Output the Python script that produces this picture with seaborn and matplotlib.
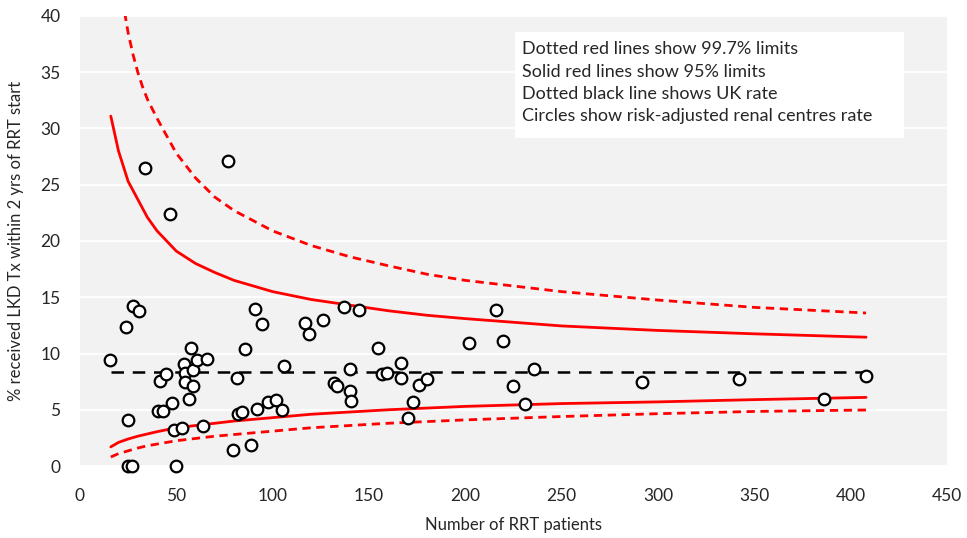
import pandas as pd
import seaborn as sns
import matplotlib.pyplot as plt
from matplotlib.patches import Rectangle

# Renal centres: number of RRT patients and risk-adjusted LKD Tx rate (%)
centre_n = [15.6, 23.9, 24.7, 25.1, 26.8, 27.7, 30.8, 33.7, 40.6, 41.5,
            42.9, 44.6, 46.7, 47.7, 48.6, 49.8, 52.9, 53.8, 54.5, 54.5,
            56.7, 57.6, 58.8, 58.8, 60.5, 63.8, 65.7, 76.8, 79.5, 81.6,
            82.0, 84.0, 85.6, 88.6, 90.9, 91.7, 94.7, 97.7, 101.7, 104.9,
            105.8, 116.9, 118.8, 125.9, 131.7, 133.6, 136.9, 140.0, 140.0, 140.7,
            144.9, 154.9, 156.8, 159.1, 166.4, 166.4, 170.1, 172.7, 175.8, 180.0,
            201.8, 215.9, 219.8, 224.9, 230.8, 235.8, 291.8, 342.0, 386.2, 408.0]
centre_rate = [9.4, 12.4, 4.1, 0.0, 0.0, 14.2, 13.8, 26.5, 4.9, 7.6,
               4.9, 8.2, 22.4, 5.6, 3.2, 0.0, 3.4, 9.1, 8.3, 7.5,
               6.0, 10.5, 8.5, 7.1, 9.4, 3.6, 9.5, 27.1, 1.4, 7.8,
               4.6, 4.8, 10.4, 1.9, 14.0, 5.1, 12.6, 5.7, 5.9, 5.0,
               8.9, 12.7, 11.7, 13.0, 7.4, 7.1, 14.1, 8.6, 6.7, 5.8,
               13.9, 10.5, 8.2, 8.3, 9.2, 7.8, 4.3, 5.7, 7.2, 7.7,
               10.9, 13.9, 11.1, 7.1, 5.5, 8.6, 7.5, 7.7, 6.0, 8.0]

# Funnel limits
limit_n = [16, 20, 25, 30, 35, 40, 50, 60, 70, 80, 100, 120, 140, 160,
           180, 200, 250, 300, 350, 408]
upper_95 = [31.1, 28.0, 25.3, 23.7, 22.1, 20.9, 19.1, 18.0, 17.2, 16.5, 15.5,
            14.8, 14.3, 13.8, 13.4, 13.1, 12.45, 12.05, 11.75, 11.45]
lower_95 = [1.7, 2.1, 2.4, 2.65, 2.85, 3.05, 3.4, 3.6, 3.8, 4.0, 4.3,
            4.6, 4.8, 5.0, 5.15, 5.3, 5.55, 5.7, 5.9, 6.1]
lower_997 = [0.8, 1.1, 1.35, 1.6, 1.8, 1.95, 2.25, 2.45, 2.65, 2.8, 3.1,
             3.4, 3.6, 3.8, 3.95, 4.1, 4.4, 4.65, 4.85, 4.98]
# the upper 99.7% line runs off the top of the chart, read more finely
upper_997_n = [16, 20, 22.5, 25, 27.5, 30, 32.5, 35, 40, 50, 60, 70, 80, 100,
               120, 140, 160, 180, 200, 250, 300, 350, 408]
upper_997 = [49.0, 44.0, 41.0, 38.5, 36.6, 35.0, 33.7, 32.6, 30.9, 27.8, 25.6,
             23.9, 22.7, 20.9, 19.6, 18.6, 17.8, 17.05, 16.5, 15.5, 14.75, 14.1, 13.6]
uk_rate = 8.4
uk_range = [16, 408]

legend_lines = [
    'Dotted red lines show 99.7% limits',
    'Solid red lines show 95% limits',
    'Dotted black line shows UK rate',
    'Circles show risk-adjusted renal centres rate',
]

centres = pd.DataFrame({'n': centre_n, 'rate': centre_rate})
limits = pd.DataFrame({'n': limit_n, 'u95': upper_95, 'l95': lower_95,
                       'l997': lower_997})
upper_outer = pd.DataFrame({'n': upper_997_n, 'u997': upper_997})
uk = pd.DataFrame({'n': uk_range, 'rate': [uk_rate, uk_rate]})

sns.set_style('white')
plt.rcParams['font.family'] = ['Lato', 'DejaVu Sans']

fig = plt.figure(figsize=(9.67, 5.38), dpi=100)
ax = fig.add_axes([0.0827, 0.1338, 0.8966, 0.8365])
ax.set_facecolor('#F2F2F2')

dotted = (0, (3, 2))
sns.lineplot(data=upper_outer, x='n', y='u997', ax=ax, color='#FF0000',
             linewidth=2.0, linestyle=dotted)
sns.lineplot(data=limits, x='n', y='l997', ax=ax, color='#FF0000',
             linewidth=2.0, linestyle=dotted)
for col in ['u95', 'l95']:
    sns.lineplot(data=limits, x='n', y=col, ax=ax, color='#FF0000', linewidth=2.0)
sns.lineplot(data=uk, x='n', y='rate', ax=ax, color='black',
             linewidth=1.8, linestyle=(0, (5, 3.5)))
sns.scatterplot(data=centres, x='n', y='rate', ax=ax, s=70, color='white',
                edgecolor='black', linewidth=1.6, zorder=5, clip_on=False)

ax.set_xlim(0, 450)
ax.set_ylim(0, 40)
ax.set_xticks(range(0, 451, 50))
ax.set_yticks(range(0, 41, 5))
ax.yaxis.grid(True, color='white', linewidth=1.3)
ax.xaxis.grid(False)
ax.set_axisbelow(True)
for s in ax.spines.values():
    s.set_visible(False)
ax.tick_params(axis='x', length=4, color='white', pad=12, labelsize=12.5)
ax.tick_params(axis='y', length=0, pad=14, labelsize=12.5)
ax.set_xlabel('Number of RRT patients', fontsize=12, labelpad=9)
ax.set_ylabel('% received LKD Tx within 2 yrs of RRT start', fontsize=12, labelpad=12)

# text box
ax.add_patch(Rectangle((0.5014, 0.728), 0.4496, 0.237, transform=ax.transAxes,
                       facecolor='white', edgecolor='none', zorder=6))
for i, line in enumerate(legend_lines):
    ax.text(0.5103, 0.926 - i * 0.0495, line, transform=ax.transAxes,
            fontsize=13, va='center', ha='left', zorder=7)

fig.savefig('out.png', dpi=100)
